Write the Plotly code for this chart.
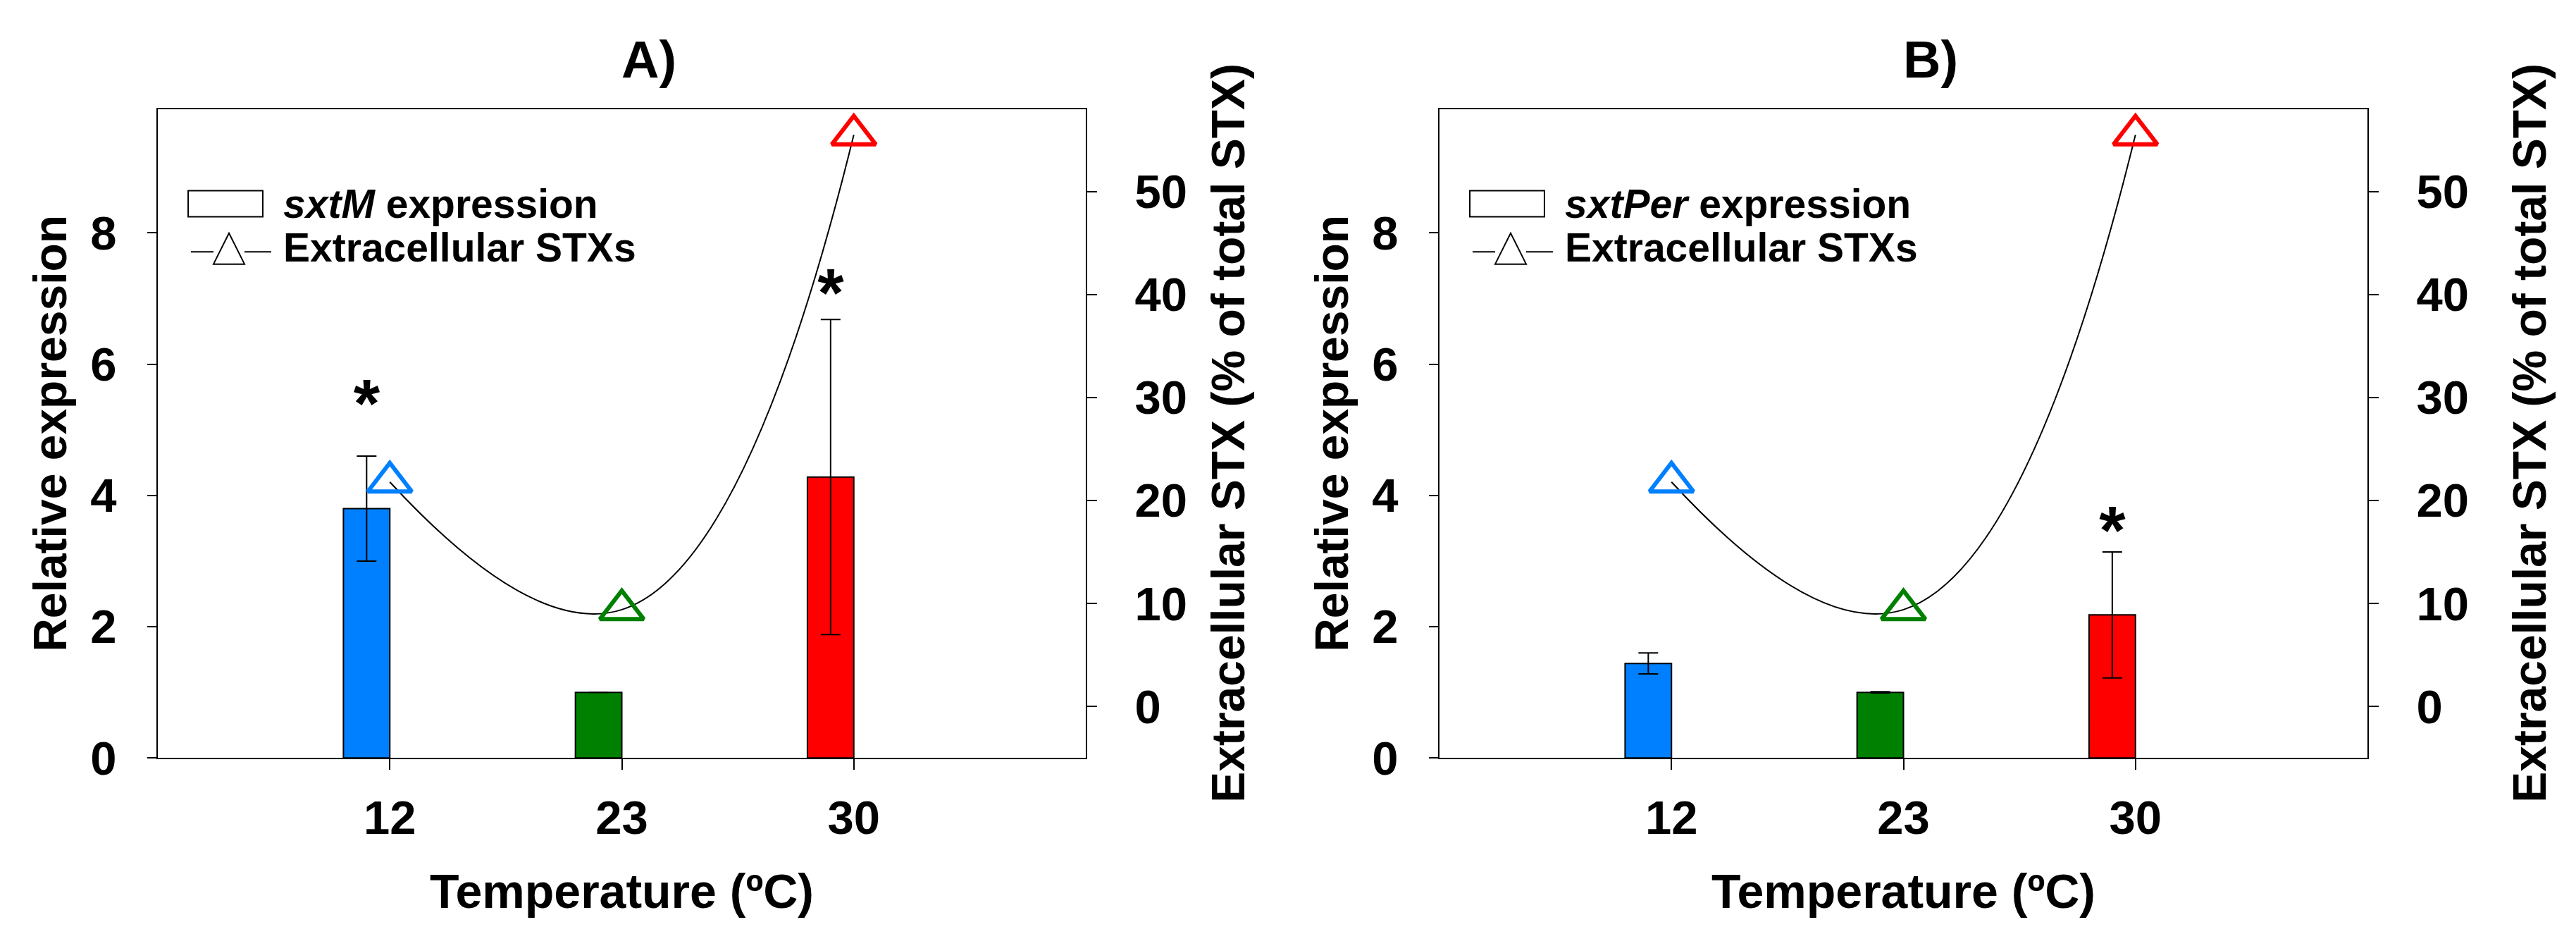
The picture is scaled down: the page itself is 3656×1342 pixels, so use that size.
import plotly.graph_objects as go

# data
temps = ["12", "23", "30"]
bar_colors = ["#0080FF", "#008000", "#FF0000"]

exprA = [3.8, 1.0, 4.28]
errA = [0.8, 0.0, 2.4]
starA = [5.31, None, 6.99]

exprB = [1.44, 1.0, 2.18]
errB = [0.16, 0.01, 0.96]
starB = [None, None, 3.37]

stxA = [21.8, 9.4, 55.5]
stxB = [21.8, 9.4, 55.5]

genes = ["sxtM", "sxtPer"]
panel_titles = ["A)", "B)"]

pos = [1, 2, 3]
BAR_W = 0.2

W, H = 3656, 1342
FONT = "Liberation Sans, Arial, sans-serif"
plot_left = [216, 2035]
plot_w = 1317
plot_top, plot_bot = 151, 1097.5


def px(x):
    return x / W


def py(y):
    return (H - y) / H


fig = go.Figure()
annotations = []
shapes = []

panels = [(exprA, errA, starA, stxA), (exprB, errB, starB, stxB)]
for i, (expr, err, star, stx) in enumerate(panels):
    xa = "x" if i == 0 else "x2"
    yl = "y" if i == 0 else "y3"
    yr = "y2" if i == 0 else "y4"

    fig.add_trace(go.Bar(x=pos, y=expr, width=BAR_W, offset=-BAR_W,
                         marker=dict(color=bar_colors, line=dict(color="black", width=2)),
                         error_y=dict(type="data", array=err, color="black", thickness=2, width=14),
                         xaxis=xa, yaxis=yl, showlegend=False))

    # significance stars sit over the bar centres
    sx = [p - BAR_W / 2 for p, s in zip(pos, star) if s is not None]
    sy = [s for s in star if s is not None]
    fig.add_trace(go.Scatter(x=sx, y=sy, mode="text", text=["*"] * len(sy),
                             textposition="middle center",
                             textfont=dict(family=FONT, size=96, color="black", weight="bold"),
                             xaxis=xa, yaxis=yl, showlegend=False))

    fig.add_trace(go.Scatter(x=pos, y=stx, mode="lines+markers",
                             line=dict(color="black", width=2, shape="spline", smoothing=1.3),
                             marker=dict(symbol="triangle-up-open", size=54, color=bar_colors,
                                         line=dict(width=6)),
                             xaxis=xa, yaxis=yr, showlegend=False))

    # legend drawn by hand inside the plot box
    xd, yd = xa + " domain", yl + " domain"
    shapes.append(dict(type="rect", xref=xd, yref=yd, x0=0.0327, x1=0.1131, y0=0.8341, y1=0.8743,
                       line=dict(color="black", width=2), fillcolor="white"))
    shapes.append(dict(type="line", xref=xd, yref=yd, x0=0.0357, x1=0.0600, y0=0.7802, y1=0.7802,
                       line=dict(color="black", width=2)))
    shapes.append(dict(type="line", xref=xd, yref=yd, x0=0.0934, x1=0.1222, y0=0.7802, y1=0.7802,
                       line=dict(color="black", width=2)))
    shapes.append(dict(type="path", xref=xd, yref=yd,
                       path="M 0.0600 0.7612 L 0.0934 0.7612 L 0.0767 0.8088 Z",
                       line=dict(color="black", width=2), fillcolor="white"))
    annotations.append(dict(xref=xd, yref=yd, x=0.1336, y=0.8542, xanchor="left", yanchor="middle",
                            text="<b><i>%s</i> expression</b>" % genes[i], showarrow=False,
                            font=dict(family=FONT, size=57, color="black")))
    annotations.append(dict(xref=xd, yref=yd, x=0.1336, y=0.7865, xanchor="left", yanchor="middle",
                            text="<b>Extracellular STXs</b>", showarrow=False,
                            font=dict(family=FONT, size=57, color="black")))

    L = plot_left[i]
    cx = L + plot_w / 2
    annotations.append(dict(xref="paper", yref="paper", x=px(cx + 38), y=py(79), text="<b>%s</b>" % panel_titles[i],
                            showarrow=False, xanchor="center", yanchor="middle",
                            font=dict(family=FONT, size=74, color="black")))
    annotations.append(dict(xref="paper", yref="paper", x=px(cx), y=py(1292), text="<b>Temperature (ºC)</b>",
                            showarrow=False, xanchor="center", yanchor="middle",
                            font=dict(family=FONT, size=68, color="black")))
    annotations.append(dict(xref="paper", yref="paper", x=px(L - 153), y=py(624), text="<b>Relative expression</b>",
                            showarrow=False, xanchor="center", yanchor="middle", textangle=-90,
                            font=dict(family=FONT, size=66, color="black")))
    annotations.append(dict(xref="paper", yref="paper", x=px(L + plot_w + (202 if i == 0 else 230)), y=py(624),
                            text="<b>Extracellular STX (% of total STX)</b>",
                            showarrow=False, xanchor="center", yanchor="middle", textangle=-90,
                            font=dict(family=FONT, size=66, color="black")))

tickfont = dict(family=FONT, size=67, color="black", weight="bold")
common = dict(showline=True, linecolor="black", linewidth=2, ticks="outside", tickwidth=2,
              tickcolor="black", showgrid=False, zeroline=False, tickfont=tickfont)

layout = dict(width=W, height=H, margin=dict(l=0, r=0, t=0, b=0), autosize=False,
              paper_bgcolor="white", plot_bgcolor="white", showlegend=False,
              annotations=annotations, shapes=shapes)
for i in range(2):
    L = plot_left[i]
    xdom = [px(L), px(L + plot_w)]
    ydom = [py(plot_bot), py(plot_top)]
    xk = "xaxis" if i == 0 else "xaxis2"
    ylk = "yaxis" if i == 0 else "yaxis3"
    yrk = "yaxis2" if i == 0 else "yaxis4"
    xa = "x" if i == 0 else "x2"
    yl = "y" if i == 0 else "y3"
    layout[xk] = dict(domain=xdom, anchor=yl, range=[0, 4], tickvals=pos, ticktext=temps,
                      ticklen=15, mirror=True, ticklabelstandoff=10, **common)
    layout[ylk] = dict(domain=ydom, anchor=xa, range=[0, 9.885], tick0=0, dtick=2,
                       ticklen=13, ticklabelstandoff=30, **common)
    layout[yrk] = dict(domain=ydom, anchor=xa, overlaying=yl, side="right", range=[-5, 58],
                       tick0=0, dtick=10, ticklen=14, ticklabelstandoff=40, **common)

fig.update_layout(**layout)
fig.write_html("out.html")
